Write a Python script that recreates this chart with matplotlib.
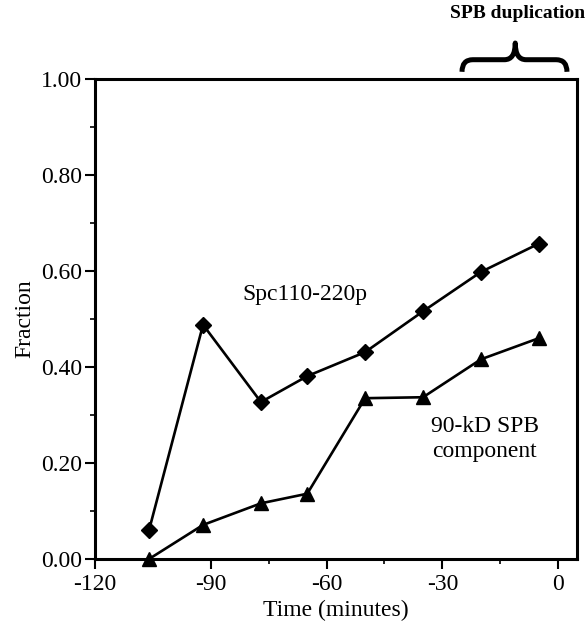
import matplotlib
matplotlib.use("Agg")
import matplotlib.pyplot as plt
from matplotlib.path import Path
from matplotlib.patches import PathPatch
from matplotlib.ticker import MultipleLocator

time_min = [-106, -92, -77, -65, -50, -35, -20, -5]
spc110 = [0.06, 0.488, 0.327, 0.381, 0.431, 0.516, 0.598, 0.657]
spb90 = [0.0, 0.071, 0.116, 0.136, 0.335, 0.337, 0.416, 0.460]
xticks = [-120, -90, -60, -30, 0]
yticks = [0.0, 0.2, 0.4, 0.6, 0.8, 1.0]

plt.rcParams['font.family'] = ['Liberation Serif', 'DejaVu Serif']

fig = plt.figure(figsize=(5.88, 6.27), dpi=100)
ax = fig.add_axes([95/588, 1-559/627, (577-95)/588, (559-79)/627])

ax.plot(time_min, spc110, color='black', lw=1.9, marker='D', ms=8.5, clip_on=False, zorder=3)
ax.plot(time_min, spb90, color='black', lw=1.9, marker='^', ms=10, clip_on=False, zorder=3)

ax.set_xlim(-120, 4.9)
ax.set_ylim(0, 1.0)
ax.set_xticks(xticks)
ax.set_xticklabels([f"{t:d}" for t in xticks])
ax.set_yticks(yticks)
ax.set_yticklabels([f"{v:.2f}" for v in yticks])
ax.xaxis.set_minor_locator(MultipleLocator(15))
ax.yaxis.set_minor_locator(MultipleLocator(0.1))
ax.tick_params(which='major', direction='out', length=7, width=1.5, labelsize=17)
ax.tick_params(axis='x', which='major', pad=4)
ax.tick_params(axis='y', which='major', pad=2)
ax.tick_params(which='minor', direction='out', length=3.5, width=1.2)
for s in ax.spines.values():
    s.set_linewidth(2.2)

ax.set_xlabel('Time (minutes)', fontsize=17, labelpad=3)
ax.set_ylabel('Fraction', fontsize=17, labelpad=4)

ax.text(-65.6, 0.552, 'Spc110-220p', fontsize=17, ha='center', va='center')
ax.text(-19, 0.25, '90-kD SPB\ncomponent', fontsize=17, ha='center', va='center', linespacing=1.2)

# brace above plot
x0, x1, xm = -24.9, 2.3, -11.1
yb, h = 1.015, 0.06
d = 2.8
yc = yb + h * 0.42
verts = [(x0, yb), (x0, yc), (x0 + d, yc),
         (xm - d, yc),
         (xm, yc), (xm, yb + h),
         (xm, yc), (xm + d, yc),
         (x1 - d, yc),
         (x1, yc), (x1, yb)]
codes = [Path.MOVETO, Path.CURVE3, Path.CURVE3,
         Path.LINETO,
         Path.CURVE3, Path.CURVE3,
         Path.CURVE3, Path.CURVE3,
         Path.LINETO,
         Path.CURVE3, Path.CURVE3]
brace = PathPatch(Path(verts, codes), facecolor='none', edgecolor='black', lw=3.6,
                  clip_on=False, capstyle='butt', joinstyle='round')
ax.add_patch(brace)
fig.text(585/588, 1-14/627, 'SPB duplication', fontsize=14, fontweight='bold',
         ha='right', va='center')

fig.savefig('out.png', dpi=100)
